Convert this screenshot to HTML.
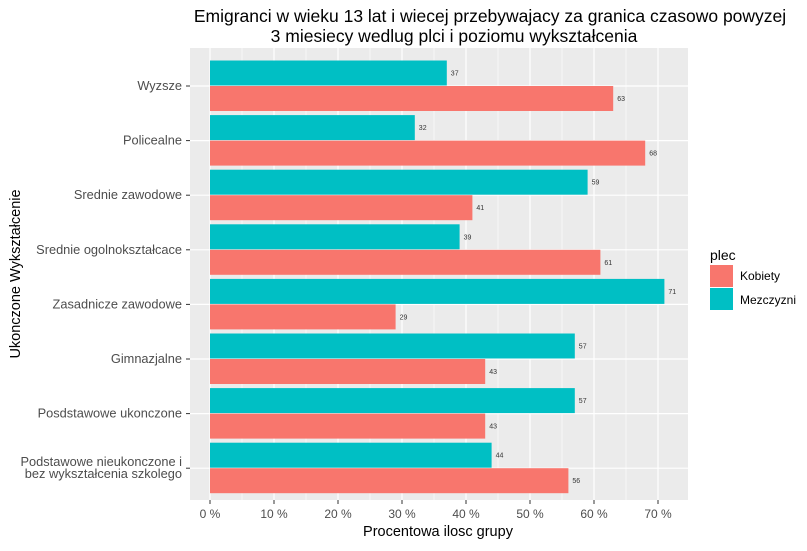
<!DOCTYPE html>
<html><head><meta charset="utf-8"><style>
body{margin:0;background:#fff;}
svg text{font-family:"Liberation Sans",sans-serif;}
</style></head><body>
<svg id="chart" width="807" height="546" xmlns="http://www.w3.org/2000/svg">
<rect width="807" height="546" fill="#fff"/>
<text x="490" y="22" font-size="17.5" text-anchor="middle" fill="#000">Emigranci w wieku 13 lat i wiecej przebywajacy za granica czasowo powyzej</text>
<text x="454" y="42" font-size="17.5" text-anchor="middle" fill="#000">3 miesiecy wedlug plci i poziomu wykształcenia</text>
<rect x="190" y="48" width="498" height="452" fill="#ebebeb"/>
<g id="grid"></g><g id="bars"></g><g id="axes"></g>
<text x="438" y="536" font-size="14.5" text-anchor="middle">Procentowa ilosc grupy</text>
<text transform="translate(20,274) rotate(-90)" font-size="14.5" text-anchor="middle">Ukonczone Wykształcenie</text>
<g>
<text x="710" y="260" font-size="14">plec</text>
<rect x="710" y="265" width="23" height="22" fill="#f8766d"/>
<text x="740" y="280" font-size="12">Kobiety</text>
<rect x="710" y="288" width="23" height="22" fill="#00bfc4"/>
<text x="740" y="304" font-size="12">Mezczyzni</text>
</g>
</svg>
<script>
const categories=["Wyzsze","Policealne","Srednie zawodowe","Srednie ogolnokształcace","Zasadnicze zawodowe","Gimnazjalne","Posdstawowe ukonczone","Podstawowe nieukonczone i|bez wykształcenia szkolego"];
const kobiety=[63,68,41,61,29,43,43,56];
const mezczyzni=[37,32,59,39,71,57,57,44];
const xTicks=[0,10,20,30,40,50,60,70];
const NS="http://www.w3.org/2000/svg";
const X=v=>210+v*6.4;
const Y=i=>86+i*54.6;
function mk(tag,attrs,parent,text){const e=document.createElementNS(NS,tag);for(const k in attrs)e.setAttribute(k,attrs[k]);if(text!=null)e.textContent=text;document.getElementById(parent).appendChild(e);return e;}
for(let v=5;v<=65;v+=10){const l=mk("line",{x1:X(v),x2:X(v),y1:48,y2:500,stroke:"#fff","stroke-width":0.6},"grid");

}
xTicks.forEach(v=>{const l=mk("line",{x1:X(v),x2:X(v),y1:48,y2:500,stroke:"#fff","stroke-width":1.2},"grid");


const t=mk("line",{x1:X(v),x2:X(v),y1:500,y2:504,stroke:"#333"},"axes");


const tx=mk("text",{x:X(v),y:518,"font-size":12,"text-anchor":"middle",fill:"#4d4d4d"},"axes",v+" %");

});
categories.forEach((c,i)=>{const y=Y(i);
const g=mk("line",{x1:190,x2:688,y1:y,y2:y,stroke:"#fff","stroke-width":1.2},"grid");


const t=mk("line",{x1:186,x2:190,y1:y,y2:y,stroke:"#333"},"axes");


const parts=c.split("|");
parts.forEach((p,j)=>{const tx=mk("text",{x:182,y:y+4+(j-(parts.length-1)/2)*12,"font-size":12.8,"text-anchor":"end",fill:"#4d4d4d"},"axes",p);

});
const bm=mk("rect",{x:X(0),y:y-25.5,width:X(mezczyzni[i])-X(0),height:25,fill:"#00bfc4"},"bars");


const bk=mk("rect",{x:X(0),y:y,width:X(kobiety[i])-X(0),height:25,fill:"#f8766d"},"bars");


const lm=mk("text",{x:X(mezczyzni[i])+4,y:y-10.5,"font-size":7,fill:"#333"},"bars",mezczyzni[i]);


const lk=mk("text",{x:X(kobiety[i])+4,y:y+15,"font-size":7,fill:"#333"},"bars",kobiety[i]);

});
</script>
</body></html>
